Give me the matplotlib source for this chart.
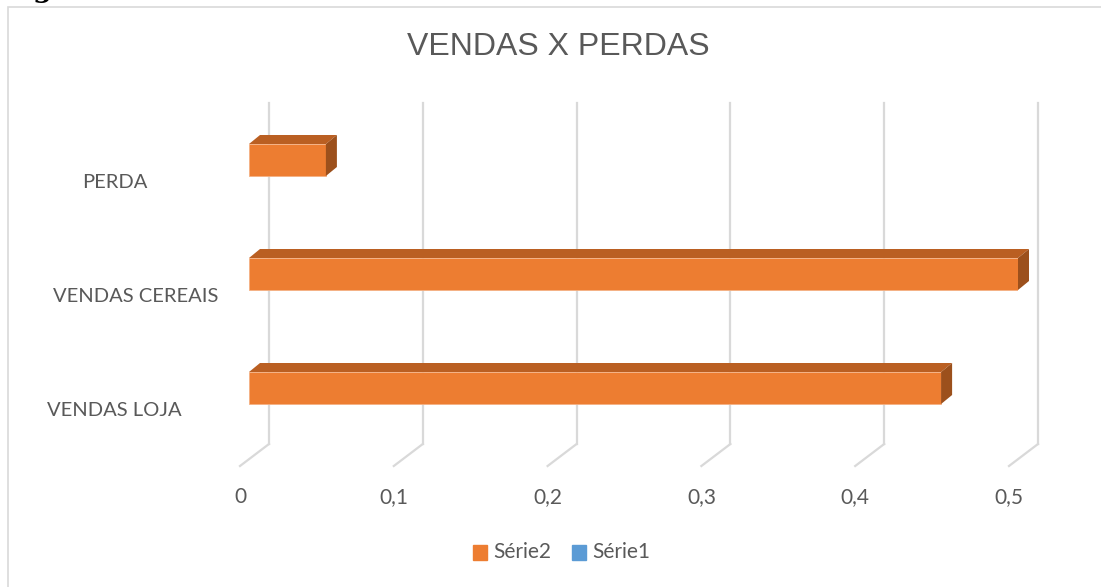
import matplotlib
matplotlib.use("Agg")
import matplotlib.pyplot as plt
from matplotlib.patches import Polygon, Rectangle
from matplotlib.lines import Line2D

# ---- data ----
categories = ["VENDAS LOJA", "VENDAS CEREAIS", "PERDA"]
serie2 = [0.45, 0.5, 0.05]
serie1 = [0.0, 0.0, 0.0]
xticks = [0, 0.1, 0.2, 0.3, 0.4, 0.5]
xtick_labels = ["0", "0,1", "0,2", "0,3", "0,4", "0,5"]
title = "VENDAS X PERDAS"
legend_labels = ["Série2", "Série1"]

# ---- style ----
W, H = 1101, 587
ORANGE = "#ED7D31"
ORANGE_TOP = "#BA5F22"
ORANGE_SIDE = "#9C501C"
BLUE = "#5B9BD5"
GRID = "#D9D9D9"
TEXT = "#595959"
LABEL_FONT = ["Lato", "DejaVu Sans"]
TITLE_FONT = ["Liberation Sans", "DejaVu Sans"]

fig = plt.figure(figsize=(W / 100, H / 100), dpi=100)
fig.patch.set_facecolor("white")

# chart border (right and bottom edges run off the picture)
fig.add_artist(Rectangle((8 / W, -0.05), (W - 8) / W + 0.05, 1.05 - 7 / H,
                         transform=fig.transFigure, fill=False,
                         edgecolor=GRID, lw=1.2))
# cut-off caption letter at the top
fig.text(33 / W, 1 + 3 / H, "g", fontsize=20, family="DejaVu Serif",
         fontweight="bold", color="black", ha="left", va="baseline")

# axes = front plane of the bars
x0_px, x1_px = 249, 1018
ybot_px, ytop_px = 459, 118
ax = fig.add_axes([x0_px / W, (H - ybot_px) / H,
                   (x1_px - x0_px) / W, (ybot_px - ytop_px) / H])
ax.set_xlim(0, 0.5)
cat_px = [388, 274, 160]
ypos = [0, 1, 2]
step = cat_px[0] - cat_px[1]
ax.set_ylim((cat_px[0] - ybot_px) / step, (cat_px[0] - ytop_px) / step)
ax.axis("off")

sx = 0.5 / (x1_px - x0_px)   # data per pixel, x
sy = 1.0 / step              # data per pixel, y
ymin, ymax = ax.get_ylim()

# back wall gridlines + floor diagonals
BDX, BDY = 20, 15     # back wall offset from bar plane (px right, px up)
FDX, FDY = -9, -7     # front floor edge offset from bar plane
for v in xticks:
    ax.add_line(Line2D([v + BDX * sx, v + BDX * sx],
                       [ymin + BDY * sy, ymax + BDY * sy],
                       color=GRID, lw=1.6, clip_on=False, zorder=1))
    ax.add_line(Line2D([v + BDX * sx, v + FDX * sx],
                       [ymin + BDY * sy, ymin + FDY * sy],
                       color=GRID, lw=1.6, clip_on=False, zorder=1))

# tick labels
for v, lab in zip(xticks, xtick_labels):
    ax.text(v + FDX * sx, ymin - 38 * sy, lab, ha="center", va="center",
            fontsize=15, color=TEXT, family=LABEL_FONT, clip_on=False)

# bars (3D look)
bh = 32 * sy
DX, DY = 11, 9
for y, v1, v2 in zip(ypos, serie1, serie2):
    ax.barh(y, v2, height=bh, color=ORANGE, edgecolor="#F4B183",
            lw=0.6, zorder=3)
    top = [(0, y + bh / 2), (v2, y + bh / 2),
           (v2 + DX * sx, y + bh / 2 + DY * sy), (DX * sx, y + bh / 2 + DY * sy)]
    ax.add_patch(Polygon(top, closed=True, facecolor=ORANGE_TOP,
                         edgecolor="none", zorder=3, clip_on=False))
    side = [(v2, y - bh / 2), (v2, y + bh / 2),
            (v2 + DX * sx, y + bh / 2 + DY * sy), (v2 + DX * sx, y - bh / 2 + DY * sy)]
    ax.add_patch(Polygon(side, closed=True, facecolor=ORANGE_SIDE,
                         edgecolor="none", zorder=3, clip_on=False))
    if v1 > 0:
        ax.barh(y - bh, v1, height=bh, color=BLUE, zorder=3)

# category labels
label_left_px = [47, 53, 82]
for y, lab, lx in zip(ypos, categories, label_left_px):
    ax.text(0 - (x0_px - lx) * sx, y - 23 * sy, lab, ha="left", va="center",
            fontsize=14.5, color=TEXT, family=LABEL_FONT, clip_on=False)

# title
fig.text(558 / W, 1 - 47 / H, title, ha="center", va="center",
         fontsize=23, color=TEXT, family=TITLE_FONT)

# legend
fig.add_artist(Rectangle((473 / W, 1 - 560 / H), 14 / W, 15 / H,
                         transform=fig.transFigure, color=ORANGE))
fig.text(493 / W, 1 - 552 / H, legend_labels[0], ha="left", va="center",
         fontsize=15, color=TEXT, family=LABEL_FONT)
fig.add_artist(Rectangle((572 / W, 1 - 560 / H), 14 / W, 15 / H,
                         transform=fig.transFigure, color=BLUE))
fig.text(592 / W, 1 - 552 / H, legend_labels[1], ha="left", va="center",
         fontsize=15, color=TEXT, family=LABEL_FONT)

fig.savefig("out.png", dpi=100, facecolor="white")
